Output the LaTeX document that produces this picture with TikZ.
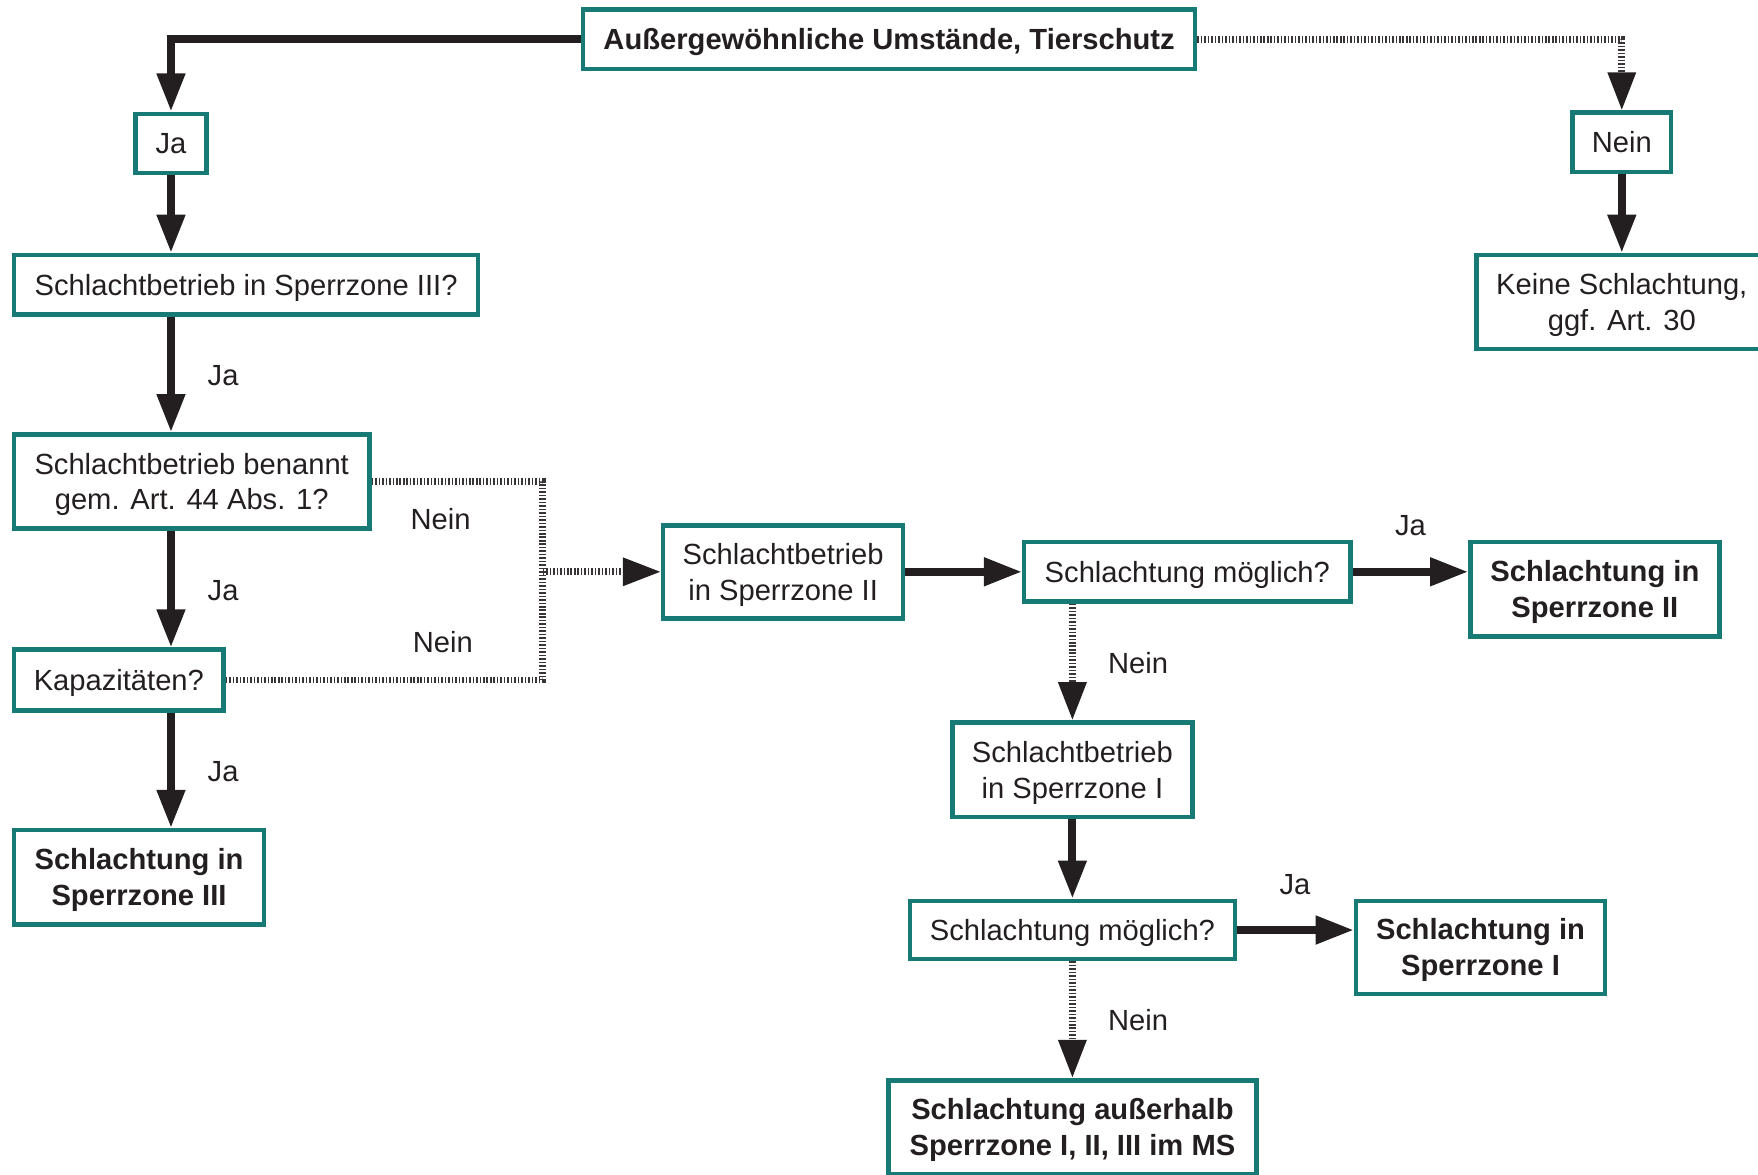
\documentclass[tikz,border=0pt]{standalone}
\usepackage{fontspec}
\setmainfont{Liberation Sans}
\usetikzlibrary{arrows.meta}
\definecolor{tealb}{RGB}{23,122,116}
\definecolor{ink}{RGB}{35,31,32}
\begin{document}
\begin{tikzpicture}[x=1pt,y=-1pt,
 box/.style={draw=tealb, line width=4pt, inner sep=0pt, align=center, text=ink, font=\fontsize{26}{32}\selectfont, text height=24.6pt, text depth=6pt},
 bbox/.style={box, font=\fontsize{26}{32}\selectfont\bfseries},
 two/.style={text height=56.6pt},
 arr/.style={draw=ink, line width=7pt, -{Triangle[length=34pt,width=24pt]}},
 dotl/.style={draw=ink!90, line width=6pt, dash pattern=on 1.4pt off 1.7pt},
 dotarr/.style={dotl, -{Triangle[length=34pt,width=24pt,color=ink]}},
 lab/.style={text=ink, font=\fontsize{26}{32}\selectfont, inner sep=0pt}]
\useasboundingbox (0,0) rectangle (1568,1048);
\clip (0,0) rectangle (1568,1048);

\node[bbox, minimum width=546, minimum height=53] (top) at (793,35) {Außergewöhnliche Umstände, Tierschutz};
\node[box, minimum width=63, minimum height=53] (ja1) at (152.5,128) {Ja};
\node[box, minimum width=414, minimum height=53] (s3) at (219.5,254) {Schlachtbetrieb in Sperrzone III?};
\node[box, two, minimum width=317, minimum height=84] (ben) at (171,429.5) {Schlachtbetrieb benannt\\gem. Art. 44 Abs. 1?};
\node[box, minimum width=187, minimum height=54] (kap) at (106,606.5) {Kapazitäten?};
\node[bbox, two, minimum width=223, minimum height=84] (sz3) at (124,782.5) {Schlachtung in\\Sperrzone III};
\node[box, two, minimum width=214, minimum height=83] (sb2) at (698.5,510) {Schlachtbetrieb\\in Sperrzone II};
\node[box, minimum width=291, minimum height=53] (m2) at (1059,510) {Schlachtung möglich?};
\node[bbox, two, minimum width=222, minimum height=84] (sz2) at (1422.5,525.5) {Schlachtung in\\Sperrzone II};
\node[box, two, minimum width=214, minimum height=84] (sb1) at (956.5,686.5) {Schlachtbetrieb\\in Sperrzone I};
\node[box, minimum width=290, minimum height=52] (m1) at (956.5,829.5) {Schlachtung möglich?};
\node[bbox, two, minimum width=222, minimum height=83] (sz1) at (1320.5,845) {Schlachtung in\\Sperrzone I};
\node[bbox, two, minimum width=328, minimum height=84] (aus) at (956.5,1005.5) {Schlachtung außerhalb\\Sperrzone I, II, III im MS};
\node[box, minimum width=88, minimum height=53] (nein) at (1446.5,127) {Nein};
\node[box, two, minimum width=259, minimum height=84] (keine) at (1446.5,269.5) {Keine Schlachtung,\\ggf. Art. 30};

\coordinate (jn) at (484,510);

\draw[arr] (top.west) -| (ja1.north);
\draw[dotarr] (top.east) -| (nein.north);
\draw[arr] (nein.south) -- (keine.north);
\draw[arr] (ja1.south) -- (ja1.south |- s3.north);
\draw[arr] (ja1 |- s3.south) -- (ja1 |- ben.north);
\draw[arr] (ja1 |- ben.south) -- (ja1 |- kap.north);
\draw[arr] (ja1 |- kap.south) -- (ja1 |- sz3.north);
\draw[dotl] (ben.east) -| (jn) |- (kap.east);
\draw[dotarr] (jn) -- (sb2.west);
\draw[arr] (sb2.east) -- (m2.west);
\draw[arr] (m2.east) -- (sz2.west |- m2.east);
\draw[dotarr] (sb1 |- m2.south) -- (sb1.north);
\draw[arr] (sb1.south) -- (m1.north);
\draw[arr] (m1.east) -- (sz1.west |- m1.east);
\draw[dotarr] (m1.south) -- (aus.north);

\node[lab] (l1) at (199,335) {Ja};
\node[lab] (l2) at (199,527) {Ja};
\node[lab] (l3) at (199,688) {Ja};
\node[lab] (l4) at (393,463) {Nein};
\node[lab] (l5) at (395,573) {Nein};
\node[lab] (l6) at (1258,469) {Ja};
\node[lab] (l7) at (1015,591) {Nein};
\node[lab] (l8) at (1155,789) {Ja};
\node[lab] (l9) at (1015,910) {Nein};
\end{tikzpicture}
\end{document}
